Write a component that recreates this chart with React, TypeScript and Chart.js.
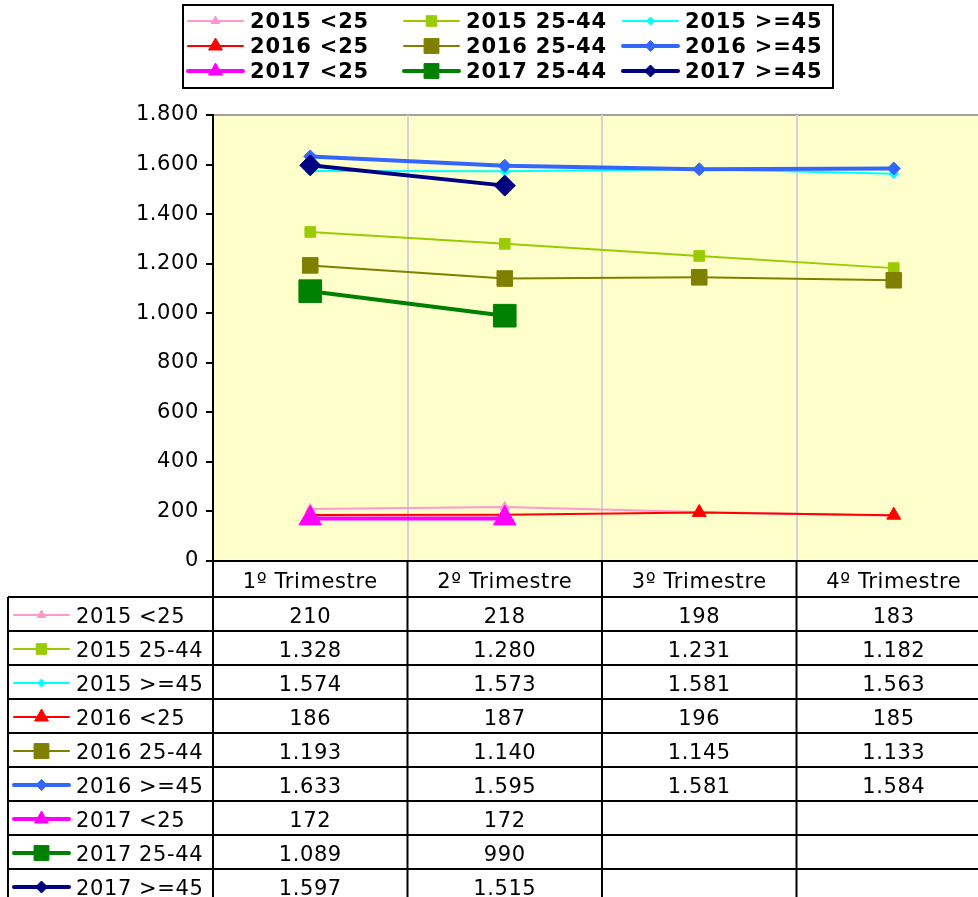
import React, { useEffect, useRef } from 'react';
import { Chart, registerables } from 'chart.js';

Chart.register(...registerables);

// ---------------- data ----------------
const categories = ['1º Trimestre', '2º Trimestre', '3º Trimestre', '4º Trimestre'];
const seriesLabels = [
  '2015 <25', '2015 25-44', '2015 >=45',
  '2016 <25', '2016 25-44', '2016 >=45',
  '2017 <25', '2017 25-44', '2017 >=45',
];
const v2015Under25 = [210, 218, 198, 183];
const v2015Mid = [1328, 1280, 1231, 1182];
const v2015Over45 = [1574, 1573, 1581, 1563];
const v2016Under25 = [186, 187, 196, 185];
const v2016Mid = [1193, 1140, 1145, 1133];
const v2016Over45 = [1633, 1595, 1581, 1584];
const v2017Under25 = [172, 172, null, null];
const v2017Mid = [1089, 990, null, null];
const v2017Over45 = [1597, 1515, null, null];
const seriesValues = [
  v2015Under25, v2015Mid, v2015Over45,
  v2016Under25, v2016Mid, v2016Over45,
  v2017Under25, v2017Mid, v2017Over45,
];
const yMin = 0;
const yMax = 1800;
const yStep = 200;

// ---------------- styles ----------------
const seriesColors = ['#FF99CC', '#99CC00', '#00FFFF', '#FF0000', '#808000', '#3366FF', '#FF00FF', '#008000', '#000080'];
const lineWidths = [2, 2, 2, 2, 2, 4, 4, 4, 4];
const pointStyles = ['triangle', 'rect', 'rectRot', 'triangle', 'rect', 'rectRot', 'triangle', 'rect', 'rectRot'];
const plotRadii = [5.5, 7.5, 5, 8, 11, 6.5, 13, 16, 10.5];
const keyRadii = [5, 7.5, 4, 8, 10.5, 5.5, 8, 10.5, 6];

const FONT = '"DejaVu Sans", Verdana, sans-serif';
const TEXT_SPACING = '0.6px';
const LEGEND_SPACING = '0.8px';
const CANVAS_W = 1008;
const CANVAS_H = 910;

function fmt(n: number | null): string {
  if (n === null || n === undefined) return '';
  return String(n).replace(/\B(?=(\d{3})+(?!\d))/g, '.');
}

function drawMarker(ctx: CanvasRenderingContext2D, style: string, x: number, y: number, r: number, color: string) {
  ctx.save();
  ctx.fillStyle = color;
  ctx.strokeStyle = color;
  ctx.lineWidth = 1;
  ctx.beginPath();
  if (style === 'triangle') {
    let rad = 0;
    ctx.moveTo(x + Math.sin(rad) * r, y - Math.cos(rad) * r);
    rad += (2 * Math.PI) / 3;
    ctx.lineTo(x + Math.sin(rad) * r, y - Math.cos(rad) * r);
    rad += (2 * Math.PI) / 3;
    ctx.lineTo(x + Math.sin(rad) * r, y - Math.cos(rad) * r);
    ctx.closePath();
  } else if (style === 'rect') {
    const s = Math.SQRT1_2 * r;
    ctx.rect(x - s, y - s, 2 * s, 2 * s);
  } else {
    ctx.moveTo(x - r, y);
    ctx.lineTo(x, y - r);
    ctx.lineTo(x + r, y);
    ctx.lineTo(x, y + r);
    ctx.closePath();
  }
  ctx.fill();
  ctx.stroke();
  ctx.restore();
}

function drawKey(ctx: CanvasRenderingContext2D, i: number, x0: number, y: number, len: number) {
  ctx.save();
  ctx.strokeStyle = seriesColors[i];
  ctx.lineWidth = lineWidths[i];
  ctx.lineCap = 'round';
  ctx.beginPath();
  ctx.moveTo(x0, y);
  ctx.lineTo(x0 + len, y);
  ctx.stroke();
  ctx.restore();
  drawMarker(ctx, pointStyles[i], x0 + len / 2, y, keyRadii[i], seriesColors[i]);
}

const backgroundPlugin = {
  id: 'plotBackground',
  beforeDraw(chart: any) {
    const { ctx, chartArea: a } = chart;
    ctx.letterSpacing = TEXT_SPACING;
    ctx.save();
    ctx.fillStyle = '#FFFFCC';
    ctx.fillRect(a.left, a.top, a.right - a.left, a.bottom - a.top);
    ctx.strokeStyle = '#a0a0a0';
    ctx.lineWidth = 2;
    ctx.beginPath();
    ctx.moveTo(a.left, a.top);
    ctx.lineTo(a.right, a.top);
    ctx.stroke();
    ctx.restore();
  },
};

const tableLegendPlugin = {
  id: 'tableLegend',
  afterDraw(chart: any) {
    const { ctx, chartArea: a } = chart;
    const xs = chart.scales.x;
    const headerTop = a.bottom;
    const headerBottom = headerTop + 36;
    const rowH = 34;
    const nRows = seriesLabels.length;
    const tableLeft = 8;
    const tableBottom = headerBottom + rowH * nRows;

    const bounds: number[] = [a.left];
    for (let i = 1; i < categories.length; i++) {
      bounds.push((xs.getPixelForValue(i - 1) + xs.getPixelForValue(i)) / 2);
    }
    bounds.push(a.right);

    ctx.save();
    ctx.strokeStyle = '#000';
    ctx.lineWidth = 2;
    ctx.beginPath();
    for (let k = 0; k <= nRows; k++) {
      const y = headerBottom + k * rowH;
      ctx.moveTo(tableLeft, y);
      ctx.lineTo(a.right, y);
    }
    ctx.moveTo(tableLeft, headerBottom);
    ctx.lineTo(tableLeft, tableBottom);
    for (const b of bounds) {
      ctx.moveTo(b, headerTop);
      ctx.lineTo(b, tableBottom);
    }
    ctx.stroke();
    ctx.restore();

    // rows
    ctx.save();
    ctx.letterSpacing = TEXT_SPACING;
    ctx.font = `21px ${FONT}`;
    ctx.fillStyle = '#000';
    ctx.textBaseline = 'middle';
    for (let i = 0; i < nRows; i++) {
      const mid = headerBottom + i * rowH + rowH / 2;
      const cy = mid + 3.5;
      drawKey(ctx, i, 14, mid + 1, 55);
      ctx.textAlign = 'left';
      ctx.fillText(seriesLabels[i], 76, cy);
      ctx.textAlign = 'center';
      const vals = seriesValues[i];
      for (let j = 0; j < categories.length; j++) {
        const v = vals[j];
        if (v === null || v === undefined) continue;
        ctx.fillText(fmt(v), xs.getPixelForValue(j), cy);
      }
    }
    ctx.restore();

    // legend
    const box = { x: 183, y: 5, w: 650, h: 83 };
    ctx.save();
    ctx.fillStyle = '#fff';
    ctx.fillRect(box.x, box.y, box.w, box.h);
    ctx.strokeStyle = '#000';
    ctx.lineWidth = 2;
    ctx.strokeRect(box.x, box.y, box.w, box.h);
    const colX = [188, 404, 623];
    const rowY = [21, 46, 71];
    ctx.letterSpacing = LEGEND_SPACING;
    ctx.font = `bold 21px ${FONT}`;
    ctx.fillStyle = '#000';
    ctx.textBaseline = 'middle';
    ctx.textAlign = 'left';
    for (let i = 0; i < seriesLabels.length; i++) {
      const c = i % 3;
      const r = Math.floor(i / 3);
      drawKey(ctx, i, colX[c], rowY[r], 55);
      ctx.fillText(seriesLabels[i], colX[c] + 62, rowY[r] + 1.5);
    }
    ctx.restore();
  },
};

export default function App() {
  const canvasRef = useRef<HTMLCanvasElement | null>(null);

  useEffect(() => {
    if (!canvasRef.current) return;
    const n = seriesLabels.length;
    const chart = new Chart(canvasRef.current, {
      type: 'line',
      data: {
        labels: categories,
        datasets: seriesLabels.map((label, i) => ({
          label,
          data: seriesValues[i],
          borderColor: seriesColors[i],
          backgroundColor: seriesColors[i],
          borderWidth: lineWidths[i],
          pointStyle: pointStyles[i] as any,
          pointRadius: plotRadii[i],
          pointBackgroundColor: seriesColors[i],
          pointBorderColor: seriesColors[i],
          pointBorderWidth: 1,
          tension: 0,
          fill: false,
          spanGaps: false,
          order: n - i,
        })),
      },
      options: {
        responsive: false,
        animation: false,
        layout: { padding: { left: 0, top: 115, right: 5, bottom: 313 } },
        plugins: {
          legend: { display: false },
          tooltip: { enabled: false },
        },
        scales: {
          x: {
            type: 'category',
            offset: true,
            grid: { offset: true, color: '#d4d4d4', lineWidth: 2, drawTicks: false },
            border: { display: true, color: '#000', width: 2 },
            ticks: { color: '#000', padding: 9, font: { family: FONT, size: 21 }, maxRotation: 0 },
            afterFit: (s: any) => { s.height = 36; s.paddingLeft = 0; s.paddingRight = 0; },
          },
          y: {
            min: yMin,
            max: yMax,
            grid: { drawOnChartArea: false, drawTicks: true, tickLength: 7, color: '#000', lineWidth: 2 },
            border: { display: true, color: '#000', width: 2 },
            ticks: {
              stepSize: yStep,
              color: '#000',
              padding: 7,
              font: { family: FONT, size: 21 },
              callback: (v: any) => fmt(Number(v)),
            },
            afterFit: (s: any) => { s.width = 213; },
          },
        },
      },
      plugins: [backgroundPlugin, tableLegendPlugin],
    });
    return () => chart.destroy();
  }, []);

  return (
    <div style={{ position: 'fixed', left: 0, top: 0, width: 978, height: 897, overflow: 'hidden', background: '#fff' }}>
      <canvas ref={canvasRef} width={CANVAS_W} height={CANVAS_H} style={{ display: 'block', width: CANVAS_W, height: CANVAS_H }} />
    </div>
  );
}
